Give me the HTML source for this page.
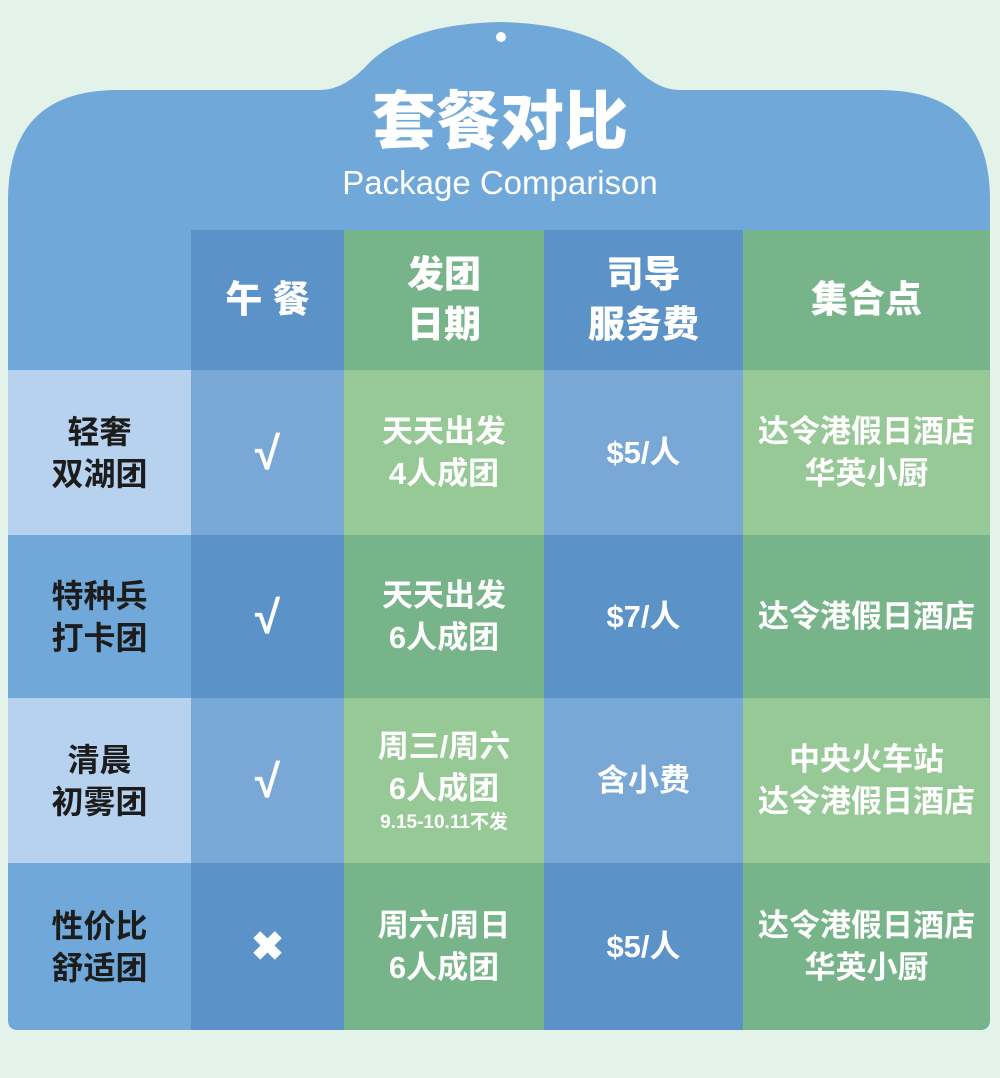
<!DOCTYPE html>
<html><head><meta charset="utf-8"><style>
body{margin:0;width:1000px;height:1078px;background:#e4f3ea;position:relative;overflow:hidden;font-family:"Liberation Sans","Noto Sans CJK SC",sans-serif}
.c{position:absolute;display:flex;flex-direction:column;align-items:center;justify-content:center;text-align:center;color:#fff;font-weight:bold;font-size:31px;line-height:42px}
.h{font-size:37px;line-height:50px;font-weight:900}
.l{color:#1c1c1c;font-size:32px}
.s{font-size:19px;line-height:26px}
</style></head><body>
<svg width="1000" height="1078" style="position:absolute;left:0;top:0">
<path d="M8 1020 L8 200 Q8 90 118 90 L320 90 Q345 90 370 62 Q410 24 500 22 Q590 24 630 62 Q655 90 680 90 L880 90 Q990 90 990 200 L990 1020 Q990 1030 980 1030 L18 1030 Q8 1030 8 1020 Z" fill="#70a8d9"/>
<circle cx="501" cy="37" r="5" fill="#fff"/>
</svg>
<div class="c h" style="left:0;width:1000px;top:87px;height:70px;font-size:64px;line-height:70px">套餐对比</div>
<div class="c" style="left:0;top:160px;width:1000px;height:45px;font-size:33px;font-weight:normal;line-height:45px">Package Comparison</div>

<div class="c h" style="left:191px;top:230px;width:153px;height:140px;background:#5b92c8">午 餐</div>
<div class="c h" style="left:344px;top:230px;width:200px;height:140px;background:#78b48a">发团<br>日期</div>
<div class="c h" style="left:544px;top:230px;width:199px;height:140px;background:#5b92c8">司导<br>服务费</div>
<div class="c h" style="left:743px;top:230px;width:247px;height:140px;background:#78b48a">集合点</div>

<div class="c l" style="left:8px;top:370px;width:183px;height:165px;background:#b6d2ee">轻奢<br>双湖团</div>
<div class="c" style="left:191px;top:370px;width:153px;height:165px;background:#7aa8d6;font-size:46px">√</div>
<div class="c" style="left:344px;top:370px;width:200px;height:165px;background:#96c996">天天出发<br>4人成团</div>
<div class="c" style="left:544px;top:370px;width:199px;height:165px;background:#7aa8d6">$5/人</div>
<div class="c" style="left:743px;top:370px;width:247px;height:165px;background:#96c996">达令港假日酒店<br>华英小厨</div>

<div class="c l" style="left:8px;top:535px;width:183px;height:163px;background:#70a8da">特种兵<br>打卡团</div>
<div class="c" style="left:191px;top:535px;width:153px;height:163px;background:#5b92c8;font-size:46px">√</div>
<div class="c" style="left:344px;top:535px;width:200px;height:163px;background:#78b48a">天天出发<br>6人成团</div>
<div class="c" style="left:544px;top:535px;width:199px;height:163px;background:#5b92c8">$7/人</div>
<div class="c" style="left:743px;top:535px;width:247px;height:163px;background:#78b48a">达令港假日酒店</div>

<div class="c l" style="left:8px;top:698px;width:183px;height:165px;background:#b6d2ee">清晨<br>初雾团</div>
<div class="c" style="left:191px;top:698px;width:153px;height:165px;background:#7aa8d6;font-size:46px">√</div>
<div class="c" style="left:344px;top:698px;width:200px;height:165px;background:#96c996"><div>周三/周六<br>6人成团</div><div class="s">9.15-10.11不发</div></div>
<div class="c" style="left:544px;top:698px;width:199px;height:165px;background:#7aa8d6">含小费</div>
<div class="c" style="left:743px;top:698px;width:247px;height:165px;background:#96c996">中央火车站<br>达令港假日酒店</div>

<div class="c l" style="left:8px;top:863px;width:183px;height:167px;background:#70a8da;border-bottom-left-radius:10px">性价比<br>舒适团</div>
<div class="c" style="left:191px;top:863px;width:153px;height:167px;background:#5b92c8;font-size:40px">✖</div>
<div class="c" style="left:344px;top:863px;width:200px;height:167px;background:#78b48a">周六/周日<br>6人成团</div>
<div class="c" style="left:544px;top:863px;width:199px;height:167px;background:#5b92c8">$5/人</div>
<div class="c" style="left:743px;top:863px;width:247px;height:167px;background:#78b48a;border-bottom-right-radius:10px">达令港假日酒店<br>华英小厨</div>
</body></html>
